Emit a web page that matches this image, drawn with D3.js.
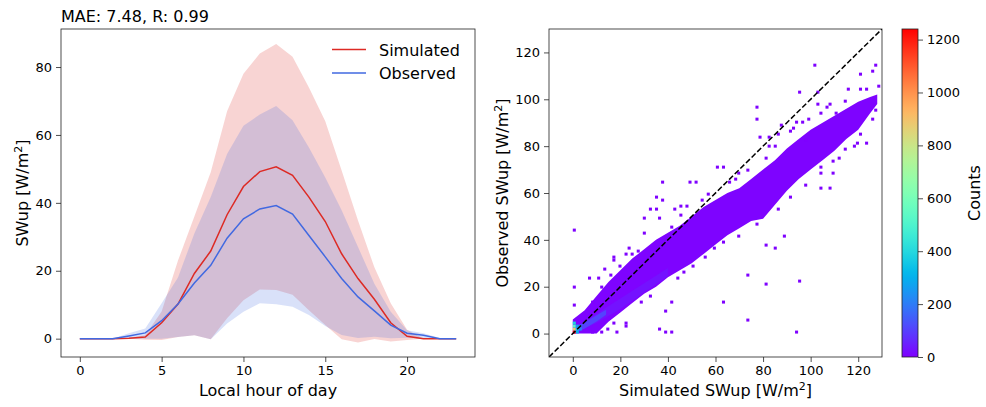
<!DOCTYPE html>
<html>
<head>
<meta charset="utf-8">
<script src="https://cdn.jsdelivr.net/npm/d3@7"></script>
<style>
body { margin: 0; background: #fff; }
text { font-family: "DejaVu Sans", sans-serif; fill: #000; }
</style>
</head>
<body>
<svg id="chart" width="986" height="407"></svg>
<script>
// left panel: diurnal cycle, mean and spread
const hours   = [0,1,2,3,4,5,6,7,8,9,10,11,12,13,14,15,16,17,18,19,20,21,22,23];
const simMean = [0,0,0,0.1,0.5,4.7,10.2,19.2,25.8,36.5,44.8,49.2,50.6,48.1,41.7,34.5,25,17.7,11.6,4.7,0.7,0,0,0];
const simLo   = [0,0,0,0,-0.3,-0.4,0.5,1.0,-0.2,6,11.3,14.5,14.3,12.9,8.4,4,-0.2,-1.1,-0.1,-0.8,-0.4,0,0,0];
const simHi   = [0,0,0,0.2,1,8,23,36,49,67,78,84,86.8,83,74,64,49.5,34.8,21,10.4,2.6,0,0,0];
const obsMean = [0,0,0,0.8,1.7,5.3,10.2,16.4,21.6,29.6,35.3,38.2,39.2,36.7,30.4,24.1,17.7,12.3,8.2,4.0,1.6,1.0,0,0];
const obsLo   = [0,0,0,0,0,0,0.5,1.0,-0.2,4.5,7.9,10.4,10.1,9.4,7,3.7,1.1,0.2,0.6,0.1,0.3,0,0,0];
const obsHi   = [0,0,0,1.6,3,10.4,18,31,41.7,54.4,62.7,66,68.5,64.3,56.3,47.5,37.8,27,16.2,7.9,2.5,1.6,0.2,0];
const leftXTicks = [0,5,10,15,20];
const leftYTicks = [0,20,40,60,80];

// right panel: 2d histogram outline (observed range per simulated value)
const bandX  = [0,5,10,15,20,25,30,35,40,45,50,55,60,65,70,75,80,85,90,95,100,105,110,115,120,125,128];
const bandLo = [0,0,0,5,9,13,17,20,24,27,30,34,38,42,45,48,49,55,61,66,70,74,78,83,87,94,98];
const bandHi = [6,10,16,22,27,32,36,40,43,46,50,54,57,60,62,66,70,74,79,83,87,90,93,96,99,101,102];
const midX  = [0.5,10,20,30,40];
const midLo = [0,4.5,10.5,17.5,24.5];
const midHi = [2.5,8.5,15,21.5,28];
const innerX  = [0.5,5,10,14];
const innerLo = [0,2.2,5.2,8];
const innerHi = [2.3,4.8,7.8,10.2];
const midCount = 28, innerCount = 105, bandCount = 4;
const hotCells = [
  {x:0, y:0, c:1240}, {x:0, y:1.28, c:880}, {x:0, y:2.56, c:520}, {x:0, y:3.84, c:380},
  {x:1.28, y:0, c:300}, {x:1.28, y:1.28, c:350}, {x:1.28, y:2.56, c:250},
  {x:2.56, y:1.28, c:200}, {x:2.56, y:2.56, c:180}
];
const outliers = [
  [101.3,114.2],[127,114.9],[125.6,112],[120.7,110.7],[95.4,102.5],[103.4,102.5],
  [76.8,96.5],[76.8,91.8],[78.7,84],[92.8,88],[85,80.4],[109.3,68.8],[60.4,70.5],
  [63.7,70.5],[49.6,64.8],[52,65],[37.7,64],[35.8,58.4],[37.9,57.2],[32,53.4],
  [35.8,52.7],[30.4,48.7],[36.5,49.5],[42.5,53.4],[44.9,54.4],[48.5,54.4],[29.7,42.7],
  [0.3,43.7],[0.3,20.4],[0.3,12.1],[17.3,32],[89.3,41],[81,38],[84.6,35.9],[74.2,25.3],
  [81.3,21.4],[95.4,22.8],[63.7,12.8],[74.2,6],[94,0.4],[41.1,13.5],[39,9],[36.5,1.4],
  [39,0.4],[41.1,1.1],[17.9,5],[22.4,5],[22.4,3.6],[18.9,0.4],[14.6,1.7],[123.8,81.9],
  [119.2,81.1],[115,78.3],[108.6,61.9],[116,104.6],[120.7,104.6],[128,105.6],[123.8,103.9],
  [106.9,96],[108.3,97.5],[114.6,99.6],[98.2,82.8],[91.8,86],[6.9,24.2],[10.4,23.5],
  [17.5,31.6],[13.7,27],[22.4,34.2],[23.8,36.3],[88,88.5],[83,84],[70,68],[66,64.5],
  [102.4,97.9],[103.8,93.9],[96.7,90.6],[111.5,74.4],[104.8,70.4],[104.8,62.2],
  [82.9,80.4],[80.8,75.4],[111,94],[99,92],[94.5,90],[86.5,84.5],[73,70],[68,66],
  [57,59.5],[54,57.5],[46,50],[41,45.5],[27,35.5],[25,34],[20,29],[15.5,24.5],[12,19.5],
  [8,13],[60,36],[63,39.5],[56,33],[50,28.5],[47,26],[44,23.5],[33,15.5],[29,13.5],
  [12.5,1],[8.5,0.2],[70,41],[77,46.5],[87,53],[92,58],[98,63],[104,68],[110,73],[118,80],
  [126,91],[127,95],[121,85]
];
const binSize = 1.28;
const rightTicks = [0,20,40,60,80,100,120];
const cbarTicks = [0,200,400,600,800,1000,1200];
const cbarMax = 1240;

const red = "#dd2a24", blue = "#4169e1";
const svg = d3.select("#chart");

// matplotlib "rainbow"
function rainbow(t) {
    return d3.rgb(255 * Math.min(1, Math.abs(2 * t - 0.5)),
                  255 * Math.max(0, Math.sin(Math.PI * t)),
                  255 * Math.max(0, Math.cos(Math.PI * t / 2)));
}
let colorScale = d3.scaleSequential(rainbow).domain([0, cbarMax]);

function styleAxis(g) {
    g.select(".domain").remove();
    g.selectAll(".tick line").attr("stroke", "#222").attr("stroke-width", 0.8);
    g.selectAll(".tick text").style("font-size", "13px").attr("fill", "#000");
}

function supLabel(g, pre, x, y, rotate) {
    let t = g.append("text")
        .attr("transform", `translate(${x},${y})` + (rotate ? " rotate(-90)" : ""))
        .attr("text-anchor", "middle")
        .style("font-size", "16px");
    t.append("tspan").text(pre);
    t.append("tspan").attr("dy", -6).style("font-size", "11px").text("2");
    t.append("tspan").attr("dy", 6).text("]");
}

// ---------- left panel ----------
let L = {x0: 61, x1: 475, y0: 29, y1: 357};
let lx = d3.scaleLinear().domain([-1.15, 24.15]).range([L.x0, L.x1]);
let ly = d3.scaleLinear().domain([-5.4, 91.2]).range([L.y1, L.y0]);

svg.append("clipPath").attr("id", "clipL")
    .append("rect").attr("x", L.x0).attr("y", L.y0)
    .attr("width", L.x1 - L.x0).attr("height", L.y1 - L.y0);
let gl = svg.append("g").attr("clip-path", "url(#clipL)");

let bandArea = (lo, hi) => d3.area()
    .x((d, i) => lx(hours[i]))
    .y0((d, i) => ly(lo[i]))
    .y1((d, i) => ly(hi[i]));
let meanLine = d3.line().x((d, i) => lx(hours[i])).y(d => ly(d));

gl.append("path").datum(hours).attr("d", bandArea(simLo, simHi))
    .attr("fill", red).attr("fill-opacity", 0.2);
gl.append("path").datum(hours).attr("d", bandArea(obsLo, obsHi))
    .attr("fill", blue).attr("fill-opacity", 0.2);
gl.append("path").datum(simMean).attr("d", meanLine)
    .attr("fill", "none").attr("stroke", red).attr("stroke-width", 1.5);
gl.append("path").datum(obsMean).attr("d", meanLine)
    .attr("fill", "none").attr("stroke", blue).attr("stroke-width", 1.5);

svg.append("g").attr("transform", `translate(0,${L.y1})`)
    .call(d3.axisBottom(lx).tickValues(leftXTicks).tickSize(5).tickPadding(4).tickSizeOuter(0))
    .call(styleAxis);
svg.append("g").attr("transform", `translate(${L.x0},0)`)
    .call(d3.axisLeft(ly).tickValues(leftYTicks).tickSize(5).tickPadding(4).tickSizeOuter(0))
    .call(styleAxis);
svg.append("rect").attr("x", L.x0).attr("y", L.y0)
    .attr("width", L.x1 - L.x0).attr("height", L.y1 - L.y0)
    .attr("fill", "none").attr("stroke", "#222").attr("stroke-width", 0.8);

svg.append("text").attr("x", L.x0).attr("y", 22)
    .style("font-size", "16px").text("MAE: 7.48, R: 0.99");
svg.append("text").attr("x", (L.x0 + L.x1) / 2).attr("y", 396)
    .attr("text-anchor", "middle").style("font-size", "16px").text("Local hour of day");
supLabel(svg, "SWup [W/m", 28, (L.y0 + L.y1) / 2, true);

// legend
let legend = [{name: "Simulated", color: red}, {name: "Observed", color: blue}];
legend.forEach((d, i) => {
    svg.append("line").attr("x1", 332).attr("x2", 366)
        .attr("y1", 49.5 + i * 23.5).attr("y2", 49.5 + i * 23.5)
        .attr("stroke", d.color).attr("stroke-width", 1.5);
    svg.append("text").attr("x", 379).attr("y", 55.5 + i * 23.5)
        .style("font-size", "16px").text(d.name);
});

// ---------- right panel ----------
let R = {x0: 549, x1: 882, y0: 29, y1: 357};
let rx = d3.scaleLinear().domain([-10, 130]).range([R.x0, R.x1]);
let ry = d3.scaleLinear().domain([-10, 130]).range([R.y1, R.y0]);

svg.append("clipPath").attr("id", "clipR")
    .append("rect").attr("x", R.x0).attr("y", R.y0)
    .attr("width", R.x1 - R.x0).attr("height", R.y1 - R.y0);
let gr = svg.append("g").attr("clip-path", "url(#clipR)");

let histArea = (xs, lo, hi) => d3.area()
    .x((d, i) => rx(xs[i]))
    .y0((d, i) => ry(lo[i]))
    .y1((d, i) => ry(hi[i]));

gr.append("path").datum(bandX).attr("d", histArea(bandX, bandLo, bandHi))
    .attr("fill", colorScale(bandCount));
gr.append("path").datum(midX).attr("d", histArea(midX, midLo, midHi))
    .attr("fill", colorScale(midCount));
gr.append("path").datum(innerX).attr("d", histArea(innerX, innerLo, innerHi))
    .attr("fill", colorScale(innerCount));

let cellW = rx(binSize) - rx(0), cellH = ry(0) - ry(binSize);
gr.selectAll(".outlier").data(outliers).join("rect")
    .attr("class", "outlier")
    .attr("x", d => rx(Math.floor(d[0] / binSize) * binSize))
    .attr("y", d => ry(Math.floor(d[1] / binSize) * binSize + binSize))
    .attr("width", cellW).attr("height", cellH)
    .attr("fill", colorScale(1));
gr.selectAll(".hot").data(hotCells).join("rect")
    .attr("class", "hot")
    .attr("x", d => rx(d.x)).attr("y", d => ry(d.y + binSize))
    .attr("width", cellW).attr("height", cellH)
    .attr("fill", d => colorScale(d.c));

gr.append("line")
    .attr("x1", rx(-10)).attr("y1", ry(-10)).attr("x2", rx(130)).attr("y2", ry(130))
    .attr("stroke", "#000").attr("stroke-width", 1.5).attr("stroke-dasharray", "5.5,2.4");

svg.append("g").attr("transform", `translate(0,${R.y1})`)
    .call(d3.axisBottom(rx).tickValues(rightTicks).tickSize(5).tickPadding(4).tickSizeOuter(0))
    .call(styleAxis);
svg.append("g").attr("transform", `translate(${R.x0},0)`)
    .call(d3.axisLeft(ry).tickValues(rightTicks).tickSize(5).tickPadding(4).tickSizeOuter(0))
    .call(styleAxis);
svg.append("rect").attr("x", R.x0).attr("y", R.y0)
    .attr("width", R.x1 - R.x0).attr("height", R.y1 - R.y0)
    .attr("fill", "none").attr("stroke", "#222").attr("stroke-width", 0.8);

supLabel(svg, "Simulated SWup [W/m", (R.x0 + R.x1) / 2, 396, false);
supLabel(svg, "Observed SWup [W/m", 508, (R.y0 + R.y1) / 2, true);

// ---------- colorbar ----------
let C = {x0: 902, x1: 918, y0: 29, y1: 357};
let cy = d3.scaleLinear().domain([0, cbarMax]).range([C.y1, C.y0]);
let grad = svg.append("defs").append("linearGradient").attr("id", "cbar")
    .attr("x1", 0).attr("y1", 1).attr("x2", 0).attr("y2", 0);
grad.selectAll("stop").data(d3.range(0, 1.0001, 0.02)).join("stop")
    .attr("offset", d => d).attr("stop-color", d => rainbow(d));
svg.append("rect").attr("x", C.x0).attr("y", C.y0)
    .attr("width", C.x1 - C.x0).attr("height", C.y1 - C.y0)
    .attr("fill", "url(#cbar)").attr("stroke", "#222").attr("stroke-width", 0.8);
svg.append("g").attr("transform", `translate(${C.x1},0)`)
    .call(d3.axisRight(cy).tickValues(cbarTicks).tickFormat(d3.format("d"))
        .tickSize(5).tickPadding(4).tickSizeOuter(0))
    .call(styleAxis);
svg.append("text").attr("transform", `translate(980,${(C.y0 + C.y1) / 2}) rotate(-90)`)
    .attr("text-anchor", "middle").style("font-size", "16px").text("Counts");
</script>
</body>
</html>
